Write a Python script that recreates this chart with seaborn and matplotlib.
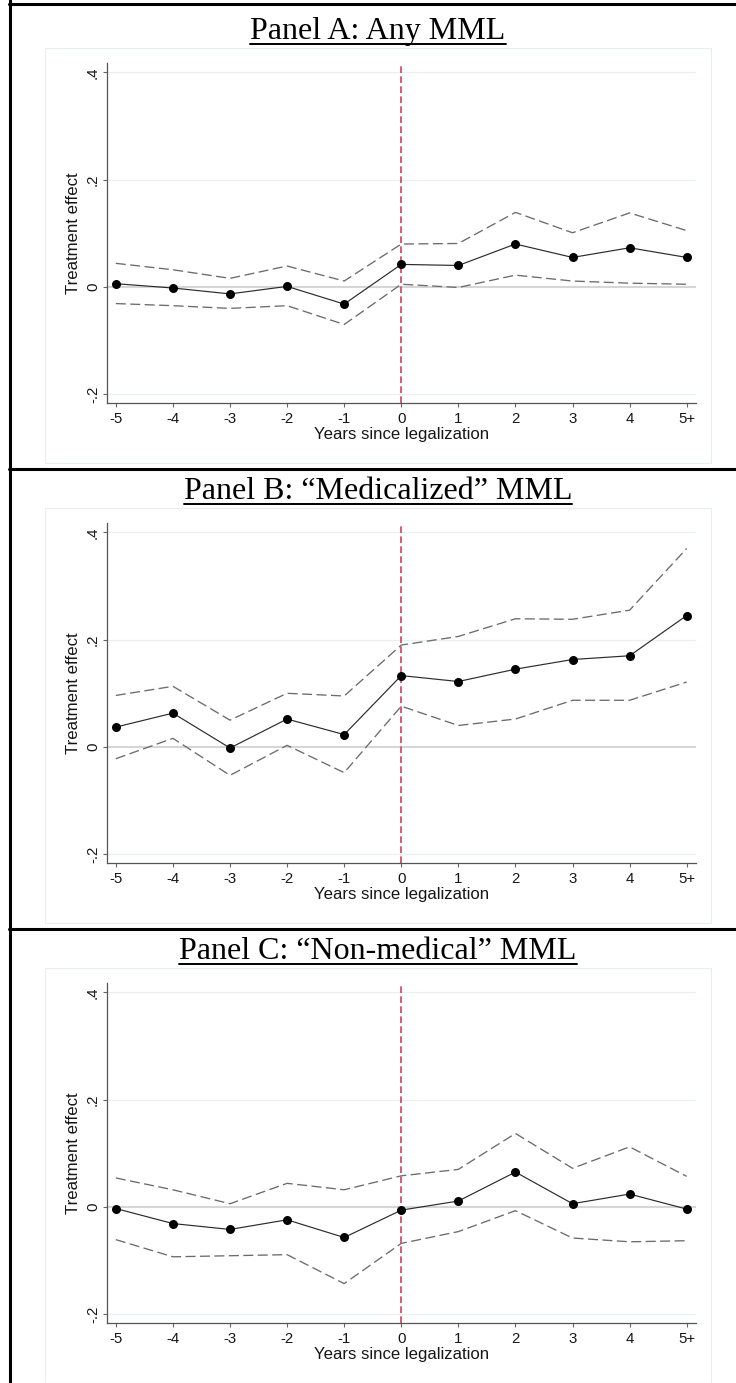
import matplotlib
matplotlib.use("Agg")
import matplotlib.pyplot as plt
from matplotlib.lines import Line2D
from matplotlib.patches import Rectangle
import pandas as pd
import seaborn as sns

# Event-study estimates by years since legalization (5+ pooled at the end)
years = [-5, -4, -3, -2, -1, 0, 1, 2, 3, 4, 5]
year_labels = ["-5", "-4", "-3", "-2", "-1", "0", "1", "2", "3", "4", "5+"]
y_ticks = [-0.2, 0.0, 0.2, 0.4]
y_tick_labels = ["-.2", "0", ".2", ".4"]

panel_titles = [
    "Panel A: Any MML",
    "Panel B: \u201cMedicalized\u201d MML",
    "Panel C: \u201cNon-medical\u201d MML",
]

a_est = [0.006, -0.002, -0.013, 0.001, -0.032, 0.042, 0.040, 0.080, 0.055, 0.073, 0.055]
a_hi = [0.044, 0.032, 0.016, 0.039, 0.011, 0.080, 0.081, 0.139, 0.101, 0.138, 0.105]
a_lo = [-0.031, -0.035, -0.040, -0.035, -0.070, 0.005, -0.001, 0.022, 0.011, 0.007, 0.005]

b_est = [0.037, 0.063, -0.002, 0.052, 0.023, 0.133, 0.122, 0.145, 0.163, 0.170, 0.245]
b_hi = [0.096, 0.113, 0.050, 0.100, 0.095, 0.190, 0.206, 0.239, 0.238, 0.255, 0.370]
b_lo = [-0.022, 0.016, -0.053, 0.003, -0.048, 0.076, 0.040, 0.052, 0.087, 0.087, 0.121]

c_est = [-0.003, -0.031, -0.042, -0.024, -0.057, -0.006, 0.011, 0.065, 0.006, 0.024, -0.004]
c_hi = [0.054, 0.032, 0.006, 0.044, 0.032, 0.058, 0.070, 0.137, 0.072, 0.112, 0.057]
c_lo = [-0.061, -0.093, -0.091, -0.089, -0.143, -0.068, -0.046, -0.007, -0.058, -0.065, -0.063]

panels = [(a_est, a_hi, a_lo), (b_est, b_hi, b_lo), (c_est, c_hi, c_lo)]

sns.set_theme(style="white")
plt.rcParams["font.family"] = ["Liberation Sans", "DejaVu Sans"]
plt.rcParams["lines.scale_dashes"] = False

W, H = 736, 1383
fig = plt.figure(figsize=(W / 100, H / 100), dpi=100)
fig.patch.set_facecolor("white")


def fx(px):
    return px / W


def fy(py):
    return 1 - py / H


PERIOD = 460
ci_color = "#6b6b6b"
red = "#d64d6c"
grid_color = "#e8f0f0"

titles = []
for k, (est, hi, lo) in enumerate(panels):
    dy = PERIOD * k
    df = pd.DataFrame({"year": years, "est": est, "hi": hi, "lo": lo})

    # light graph-region outline
    fig.add_artist(Rectangle((fx(45), fy(463 + dy)), fx(710.7) - fx(45), fy(48.3 + dy) - fy(463 + dy),
                             transform=fig.transFigure, fill=False, edgecolor="#e6eeee", lw=0.8))

    ax = fig.add_axes([fx(106.7), fy(403.3 + dy), fx(696) - fx(106.7), fy(63.3 + dy) - fy(403.3 + dy)])
    ax.set_facecolor("white")
    ax.set_xlim(-5.16, 5.163)
    ax.set_ylim(-0.217, 0.417)

    for yt in y_ticks:
        if yt != 0:
            ax.axhline(yt, color=grid_color, lw=0.9, zorder=0.5)
    ax.axhline(0, color="#d6d6d6", lw=1.5, zorder=1)

    sns.lineplot(data=df, x="year", y="hi", ax=ax, color=ci_color, lw=0.95,
                 linestyle=(0, (7.2, 3.2)), zorder=2, legend=False)
    sns.lineplot(data=df, x="year", y="lo", ax=ax, color=ci_color, lw=0.95,
                 linestyle=(0, (7.2, 3.2)), zorder=2, legend=False)
    ax.axvline(0, color=red, lw=1.3, linestyle=(0, (4.8, 2.4)), zorder=2.5)
    sns.lineplot(data=df, x="year", y="est", ax=ax, color="#2b2b2b", lw=0.85, zorder=3, legend=False)
    sns.scatterplot(data=df, x="year", y="est", ax=ax, color="black", s=42, linewidth=0,
                    zorder=4, legend=False)

    for side in ["top", "right"]:
        ax.spines[side].set_visible(False)
    for side in ["left", "bottom"]:
        ax.spines[side].set_color("#555555")
        ax.spines[side].set_linewidth(0.9)

    ax.set_xticks(years)
    ax.set_xticklabels(year_labels)
    ax.set_yticks(y_ticks)
    ax.set_yticklabels(y_tick_labels, rotation=90, va="center")
    ax.tick_params(axis="both", which="major", direction="out", length=3, width=0.8,
                   color="#666666", labelsize=10.8, labelcolor="#161616", bottom=True, left=True)
    ax.tick_params(axis="x", pad=3.2)
    ax.tick_params(axis="y", pad=1.8)
    ax.grid(False)

    ax.set_xlabel("Years since legalization", fontsize=12.1, color="#161616")
    ax.set_ylabel("Treatment effect", fontsize=12.1, color="#161616")
    ax.xaxis.set_label_coords(0.5, -0.071)
    ax.yaxis.set_label_coords(-0.044, 0.5)

    t = fig.text(fx(378), fy(39 + dy), panel_titles[k], ha="center", va="baseline",
                 fontsize=23, family=["Liberation Serif", "DejaVu Serif"], color="black")
    titles.append((t, dy))

# table-style borders around the panels
lw_border = 2.2
fig.add_artist(Line2D([fx(9.7), fx(9.7)], [0, 1], transform=fig.transFigure, color="black", lw=lw_border))
for yb in [4, 469, 929]:
    fig.add_artist(Line2D([fx(8.6), 1], [fy(yb), fy(yb)], transform=fig.transFigure, color="black",
                          lw=lw_border))

# underline the panel titles
fig.canvas.draw()
renderer = fig.canvas.get_renderer()
for t, dy in titles:
    bb = t.get_window_extent(renderer)
    fig.add_artist(Line2D([bb.x0 / W, bb.x1 / W], [fy(43.5 + dy), fy(43.5 + dy)], transform=fig.transFigure,
                          color="black", lw=1.4))

fig.savefig("out.png", dpi=100)
